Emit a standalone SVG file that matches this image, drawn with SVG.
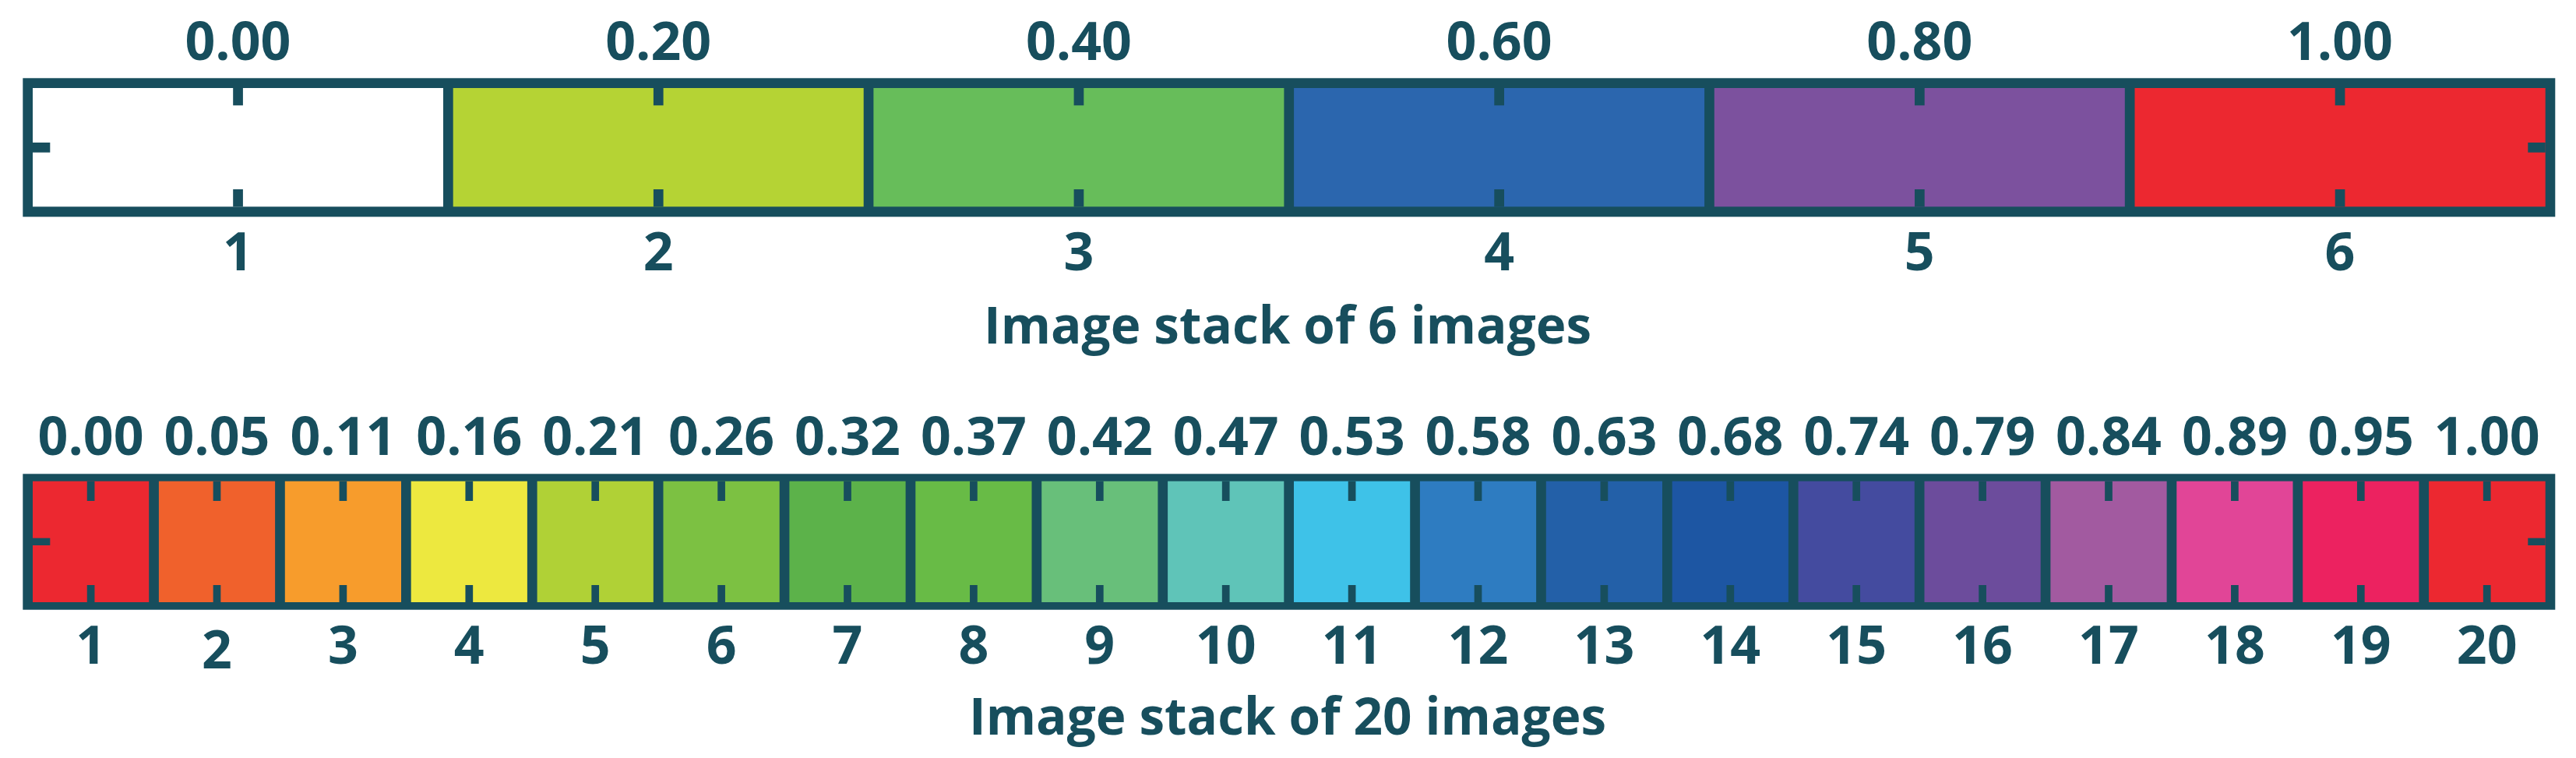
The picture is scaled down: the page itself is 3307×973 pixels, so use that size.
<svg xmlns="http://www.w3.org/2000/svg" width="3307" height="973" viewBox="0 0 3307 973">
<style>
.frame{fill:#174e5d}
.tick{fill:#174e5d}
.lbl{font-family:"Open Sans","Liberation Sans",sans-serif;font-weight:700;font-size:68px;fill:#174e5d;text-anchor:middle}
.title{font-family:"Open Sans","Liberation Sans",sans-serif;font-weight:700;font-size:67px;fill:#174e5d;text-anchor:middle}
</style>
<rect width="3307" height="973" fill="#ffffff"/>

<!-- Top bar: 6 images -->
<g id="stack6">
  <rect class="frame" x="29.3" y="100.3" width="3251" height="178"/>
  <g id="s6-cell1"><rect x="42" y="113" width="527" height="152.3" fill="#ffffff"/><rect class="tick" x="299.2" y="113" width="12.7" height="22.3"/><rect class="tick" x="299.2" y="243" width="12.7" height="22.3"/><rect class="tick" x="42" y="183" width="22.3" height="12.7"/><text class="lbl" x="305.5" y="77">0.00</text><text class="lbl" x="305.5" y="347">1</text></g>
  <g id="s6-cell2"><rect x="581.7" y="113" width="527" height="152.3" fill="#b5d334"/><rect class="tick" x="838.9" y="113" width="12.7" height="22.3"/><rect class="tick" x="838.9" y="243" width="12.7" height="22.3"/><text class="lbl" x="845.2" y="77">0.20</text><text class="lbl" x="845.2" y="347">2</text></g>
  <g id="s6-cell3"><rect x="1121.4" y="113" width="527" height="152.3" fill="#67bd5a"/><rect class="tick" x="1378.6" y="113" width="12.7" height="22.3"/><rect class="tick" x="1378.6" y="243" width="12.7" height="22.3"/><text class="lbl" x="1384.9" y="77">0.40</text><text class="lbl" x="1384.9" y="347">3</text></g>
  <g id="s6-cell4"><rect x="1661.1" y="113" width="527" height="152.3" fill="#2b66ae"/><rect class="tick" x="1918.3" y="113" width="12.7" height="22.3"/><rect class="tick" x="1918.3" y="243" width="12.7" height="22.3"/><text class="lbl" x="1924.6" y="77">0.60</text><text class="lbl" x="1924.6" y="347">4</text></g>
  <g id="s6-cell5"><rect x="2200.8" y="113" width="527" height="152.3" fill="#7c519e"/><rect class="tick" x="2458" y="113" width="12.7" height="22.3"/><rect class="tick" x="2458" y="243" width="12.7" height="22.3"/><text class="lbl" x="2464.3" y="77">0.80</text><text class="lbl" x="2464.3" y="347">5</text></g>
  <g id="s6-cell6"><rect x="2740.5" y="113" width="527.2" height="152.3" fill="#ec2830"/><rect class="tick" x="2997.7" y="113" width="12.7" height="22.3"/><rect class="tick" x="2997.7" y="243" width="12.7" height="22.3"/><rect class="tick" x="3245.3" y="183" width="22.4" height="12.7"/><text class="lbl" x="3004" y="77">1.00</text><text class="lbl" x="3004" y="347">6</text></g>
  <text id="title6" class="title" x="1653" y="441" textLength="780" lengthAdjust="spacingAndGlyphs">Image stack of 6 images</text>
</g>

<!-- Bottom bar: 20 images -->
<g id="stack20">
  <rect class="frame" x="29.3" y="608.3" width="3251" height="174.4"/>
  <g id="s20-cell1"><rect x="42" y="617.7" width="149.2" height="155.3" fill="#ec2830"/><rect class="tick" x="111.75" y="617.7" width="9.7" height="25.3"/><rect class="tick" x="111.75" y="751" width="9.7" height="22"/><rect class="tick" x="42" y="690.7" width="22.3" height="9.3"/><text class="lbl" x="116.6" y="584">0.00</text><text class="lbl" x="116.6" y="852">1</text></g>
  <g id="s20-cell2"><rect x="203.9" y="617.7" width="149.2" height="155.3" fill="#f0612c"/><rect class="tick" x="273.65" y="617.7" width="9.7" height="25.3"/><rect class="tick" x="273.65" y="751" width="9.7" height="22"/><text class="lbl" x="278.5" y="584">0.05</text><text class="lbl" x="278.5" y="858">2</text></g>
  <g id="s20-cell3"><rect x="365.8" y="617.7" width="149.2" height="155.3" fill="#f79c2c"/><rect class="tick" x="435.55" y="617.7" width="9.7" height="25.3"/><rect class="tick" x="435.55" y="751" width="9.7" height="22"/><text class="lbl" x="440.4" y="584">0.11</text><text class="lbl" x="440.4" y="852">3</text></g>
  <g id="s20-cell4"><rect x="527.7" y="617.7" width="149.2" height="155.3" fill="#ede83f"/><rect class="tick" x="597.45" y="617.7" width="9.7" height="25.3"/><rect class="tick" x="597.45" y="751" width="9.7" height="22"/><text class="lbl" x="602.3" y="584">0.16</text><text class="lbl" x="602.3" y="852">4</text></g>
  <g id="s20-cell5"><rect x="689.6" y="617.7" width="149.2" height="155.3" fill="#b0d136"/><rect class="tick" x="759.35" y="617.7" width="9.7" height="25.3"/><rect class="tick" x="759.35" y="751" width="9.7" height="22"/><text class="lbl" x="764.2" y="584">0.21</text><text class="lbl" x="764.2" y="852">5</text></g>
  <g id="s20-cell6"><rect x="851.5" y="617.7" width="149.2" height="155.3" fill="#7cc142"/><rect class="tick" x="921.25" y="617.7" width="9.7" height="25.3"/><rect class="tick" x="921.25" y="751" width="9.7" height="22"/><text class="lbl" x="926.1" y="584">0.26</text><text class="lbl" x="926.1" y="852">6</text></g>
  <g id="s20-cell7"><rect x="1013.4" y="617.7" width="149.2" height="155.3" fill="#5cb24a"/><rect class="tick" x="1083.15" y="617.7" width="9.7" height="25.3"/><rect class="tick" x="1083.15" y="751" width="9.7" height="22"/><text class="lbl" x="1088" y="584">0.32</text><text class="lbl" x="1088" y="852">7</text></g>
  <g id="s20-cell8"><rect x="1175.3" y="617.7" width="149.2" height="155.3" fill="#68bb46"/><rect class="tick" x="1245.05" y="617.7" width="9.7" height="25.3"/><rect class="tick" x="1245.05" y="751" width="9.7" height="22"/><text class="lbl" x="1249.9" y="584">0.37</text><text class="lbl" x="1249.9" y="852">8</text></g>
  <g id="s20-cell9"><rect x="1337.2" y="617.7" width="149.2" height="155.3" fill="#68bf7a"/><rect class="tick" x="1406.95" y="617.7" width="9.7" height="25.3"/><rect class="tick" x="1406.95" y="751" width="9.7" height="22"/><text class="lbl" x="1411.8" y="584">0.42</text><text class="lbl" x="1411.8" y="852">9</text></g>
  <g id="s20-cell10"><rect x="1499.1" y="617.7" width="149.2" height="155.3" fill="#5fc4b8"/><rect class="tick" x="1568.85" y="617.7" width="9.7" height="25.3"/><rect class="tick" x="1568.85" y="751" width="9.7" height="22"/><text class="lbl" x="1573.7" y="584">0.47</text><text class="lbl" x="1573.7" y="852">10</text></g>
  <g id="s20-cell11"><rect x="1661" y="617.7" width="149.2" height="155.3" fill="#3ec2e8"/><rect class="tick" x="1730.75" y="617.7" width="9.7" height="25.3"/><rect class="tick" x="1730.75" y="751" width="9.7" height="22"/><text class="lbl" x="1735.6" y="584">0.53</text><text class="lbl" x="1735.6" y="852">11</text></g>
  <g id="s20-cell12"><rect x="1822.9" y="617.7" width="149.2" height="155.3" fill="#2e7cc1"/><rect class="tick" x="1892.65" y="617.7" width="9.7" height="25.3"/><rect class="tick" x="1892.65" y="751" width="9.7" height="22"/><text class="lbl" x="1897.5" y="584">0.58</text><text class="lbl" x="1897.5" y="852">12</text></g>
  <g id="s20-cell13"><rect x="1984.8" y="617.7" width="149.2" height="155.3" fill="#2360a8"/><rect class="tick" x="2054.55" y="617.7" width="9.7" height="25.3"/><rect class="tick" x="2054.55" y="751" width="9.7" height="22"/><text class="lbl" x="2059.4" y="584">0.63</text><text class="lbl" x="2059.4" y="852">13</text></g>
  <g id="s20-cell14"><rect x="2146.7" y="617.7" width="149.2" height="155.3" fill="#1d56a3"/><rect class="tick" x="2216.45" y="617.7" width="9.7" height="25.3"/><rect class="tick" x="2216.45" y="751" width="9.7" height="22"/><text class="lbl" x="2221.3" y="584">0.68</text><text class="lbl" x="2221.3" y="852">14</text></g>
  <g id="s20-cell15"><rect x="2308.6" y="617.7" width="149.2" height="155.3" fill="#444b9f"/><rect class="tick" x="2378.35" y="617.7" width="9.7" height="25.3"/><rect class="tick" x="2378.35" y="751" width="9.7" height="22"/><text class="lbl" x="2383.2" y="584">0.74</text><text class="lbl" x="2383.2" y="852">15</text></g>
  <g id="s20-cell16"><rect x="2470.5" y="617.7" width="149.2" height="155.3" fill="#6c4c9c"/><rect class="tick" x="2540.25" y="617.7" width="9.7" height="25.3"/><rect class="tick" x="2540.25" y="751" width="9.7" height="22"/><text class="lbl" x="2545.1" y="584">0.79</text><text class="lbl" x="2545.1" y="852">16</text></g>
  <g id="s20-cell17"><rect x="2632.4" y="617.7" width="149.2" height="155.3" fill="#a25aa0"/><rect class="tick" x="2702.15" y="617.7" width="9.7" height="25.3"/><rect class="tick" x="2702.15" y="751" width="9.7" height="22"/><text class="lbl" x="2707" y="584">0.84</text><text class="lbl" x="2707" y="852">17</text></g>
  <g id="s20-cell18"><rect x="2794.3" y="617.7" width="149.2" height="155.3" fill="#e14597"/><rect class="tick" x="2864.05" y="617.7" width="9.7" height="25.3"/><rect class="tick" x="2864.05" y="751" width="9.7" height="22"/><text class="lbl" x="2868.9" y="584">0.89</text><text class="lbl" x="2868.9" y="852">18</text></g>
  <g id="s20-cell19"><rect x="2956.2" y="617.7" width="149.2" height="155.3" fill="#ec2260"/><rect class="tick" x="3025.95" y="617.7" width="9.7" height="25.3"/><rect class="tick" x="3025.95" y="751" width="9.7" height="22"/><text class="lbl" x="3030.8" y="584">0.95</text><text class="lbl" x="3030.8" y="852">19</text></g>
  <g id="s20-cell20"><rect x="3118.1" y="617.7" width="149.6" height="155.3" fill="#ec2830"/><rect class="tick" x="3187.85" y="617.7" width="9.7" height="25.3"/><rect class="tick" x="3187.85" y="751" width="9.7" height="22"/><rect class="tick" x="3245.3" y="690.7" width="22.4" height="9.3"/><text class="lbl" x="3192.7" y="584">1.00</text><text class="lbl" x="3192.7" y="852">20</text></g>
  <text id="title20" class="title" x="1653" y="943" textLength="818" lengthAdjust="spacingAndGlyphs">Image stack of 20 images</text>
</g>
</svg>
